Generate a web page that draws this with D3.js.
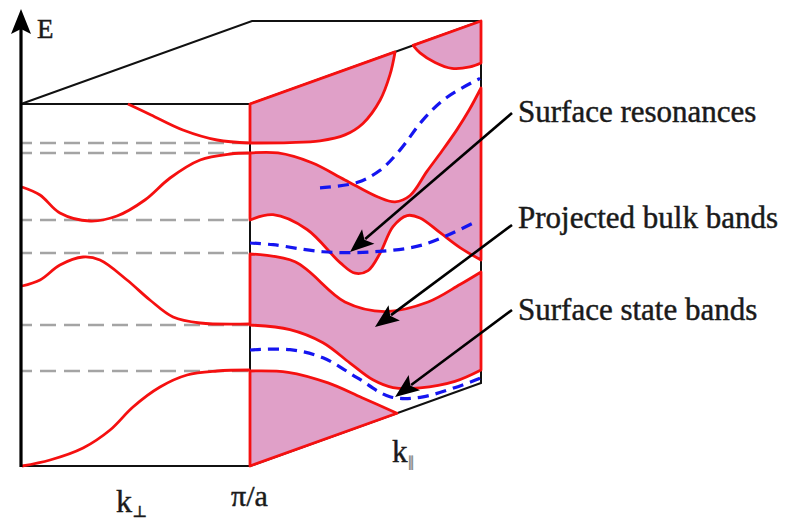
<!DOCTYPE html>
<html>
<head>
<meta charset="utf-8">
<script src="https://cdn.jsdelivr.net/npm/d3@7"></script>
<style>
  body { margin: 0; background: #fff; }
  svg { display: block; background: #fff; }
</style>
</head>
<body>
<svg></svg>
<script>
const width = 787;
const height = 519;
const serif = 'Liberation Serif, DejaVu Serif, serif';

// energies of the gray reference levels on the k-perp face
const dashLevels = [323, 313, 246, 213, 141, 95];

// bulk bands E(k_perp), k_perp from 0 to pi/a
const perpBands = [
  [[0.467, 362], [0.568, 351], [0.707, 336], [0.856, 326], [1, 323]],
  [[0.004, 279], [0.083, 271], [0.170, 253], [0.301, 245], [0.419, 250], [0.541, 266], [0.651, 288], [0.782, 306], [0.913, 312], [1, 313]],
  [[0.004, 180], [0.083, 186], [0.170, 201], [0.271, 209], [0.345, 206], [0.463, 186], [0.563, 166], [0.664, 149], [0.782, 143], [1, 142]],
  [[0.004, 0], [0.127, 6], [0.271, 18], [0.389, 36], [0.489, 59], [0.607, 79], [0.725, 91], [0.856, 95], [1, 96]]
];

// projected bulk regions on the k-par face, each one a list of boundary pieces
const projected = [
  [[[0, 362], [0.628, 362]],
   [[0.628, 362], [0.606, 341], [0.563, 319], [0.489, 302], [0.411, 297], [0.303, 300], [0.173, 309], [0, 323]]],
  [[[0.706, 362], [1, 362]],
   [[1, 320], [0.952, 320], [0.874, 325], [0.801, 337], [0.736, 352], [0.706, 362]]],
  [[[0, 313], [0.121, 303], [0.268, 281], [0.411, 252], [0.554, 223], [0.628, 212], [0.693, 213], [0.766, 231], [0.831, 246], [0.896, 262], [0.948, 277], [1, 295]],
   [[1, 123], [0.909, 143], [0.823, 165], [0.736, 187], [0.680, 194], [0.619, 188], [0.563, 166], [0.511, 153], [0.455, 155], [0.390, 171], [0.247, 216], [0.100, 243], [0, 246]]],
  [[[0, 212], [0.195, 188], [0.411, 130], [0.584, 106], [0.771, 100], [0.909, 106], [1, 111]],
   [[1, 13], [0.887, 11], [0.736, 17], [0.619, 27], [0.532, 42], [0.433, 67], [0.316, 97], [0.173, 122], [0, 141]]],
  [[[0, 0], [0.636, 0]],
   [[0.636, 0], [0.485, 28], [0.338, 55], [0.165, 80], [0, 95]]]
];

// surface states / resonances E(k_par)
const surfaceStates = [
  [[0.303, 253], [0.463, 245], [0.563, 249], [0.649, 262], [0.749, 284], [0.853, 298], [0.996, 305]],
  [[0, 223], [0.1, 213], [0.316, 188], [0.532, 170], [0.749, 159], [0.974, 163]],
  [[0, 116], [0.173, 102], [0.316, 82], [0.463, 50], [0.606, 19], [0.749, 7], [0.996, 5]]
];

const calloutText = ['Surface resonances', 'Projected bulk bands', 'Surface state bands'];
const calloutTarget = [[0.433, 178], [0.541, 94], [0.628, 17]];

const eMax = 362;
const labelX = 518;
const labelY = [122, 228, 320];
const tailX = 512;
const tailY = [113, 225, 310];

window.onload = () => {
  const svg = d3.select('svg')
      .attr('width', width)
      .attr('height', height)
      .attr('font-family', serif);

  const xPerp = d3.scaleLinear().domain([0, 1]).range([21, 250]);
  const xPar = d3.scaleLinear().domain([0, 1]).range([250, 481]);
  const yE = d3.scaleLinear().domain([0, eMax]).range([466, 104]);
  const skew = d3.scaleLinear().domain([0, 1]).range([0, 83]);

  const par = p => [xPar(p[0]), yE(p[1]) - skew(p[0])];

  const perpLine = d3.line()
      .x(d => xPerp(d[0]))
      .y(d => yE(d[1]))
      .curve(d3.curveCatmullRom);

  const parLine = d3.line()
      .x(d => par(d)[0])
      .y(d => par(d)[1])
      .curve(d3.curveCatmullRom);

  const red = '#f51010';
  const pink = '#e0a0c8';

  // cube frame
  const depth = xPar(1) - xPar(0);
  const frame = svg.append('g')
      .attr('fill', 'none')
      .attr('stroke', '#111')
      .attr('stroke-width', 2);

  frame.append('path')
      .attr('d', d3.line()([
        [xPerp(0), yE(eMax)], [xPerp(0) + depth, yE(eMax) - skew(1)],
        par([1, eMax]), par([0, eMax])
      ]));
  frame.append('path')
      .attr('d', d3.line()([
        [xPerp(0), yE(eMax)], [xPerp(1), yE(eMax)], [xPerp(1), yE(0)], [xPerp(0), yE(0)]
      ]));
  frame.append('path')
      .attr('d', d3.line()([par([0, 0]), par([1, 0]), par([1, eMax])]));

  // projected bulk bands
  svg.append('g')
    .selectAll('path')
    .data(projected)
    .join('path')
      .attr('d', pieces => pieces.map((pts, i) => {
        const s = parLine(pts);
        return i === 0 ? s : 'L' + s.slice(1);
      }).join('') + 'Z')
      .attr('fill', pink)
      .attr('stroke', red)
      .attr('stroke-width', 2.8)
      .attr('stroke-linejoin', 'round');

  // gray reference levels
  svg.append('g')
    .selectAll('line')
    .data(dashLevels)
    .join('line')
      .attr('x1', xPerp(0) + 1)
      .attr('x2', xPerp(1))
      .attr('y1', d => yE(d))
      .attr('y2', d => yE(d))
      .attr('stroke', '#a4a4a4')
      .attr('stroke-width', 2.6)
      .attr('stroke-dasharray', '16,8')
      .attr('stroke-dashoffset', 6);

  // bulk bands along k-perp
  svg.append('g')
    .selectAll('path')
    .data(perpBands)
    .join('path')
      .attr('d', perpLine)
      .attr('fill', 'none')
      .attr('stroke', red)
      .attr('stroke-width', 2.8);

  // surface states
  svg.append('g')
    .selectAll('path')
    .data(surfaceStates)
    .join('path')
      .attr('d', parLine)
      .attr('fill', 'none')
      .attr('stroke', '#1515f0')
      .attr('stroke-width', 3.2)
      .attr('stroke-dasharray', '11,7');

  // energy axis
  svg.append('line')
      .attr('x1', xPerp(0))
      .attr('x2', xPerp(0))
      .attr('y1', yE(0) + 1)
      .attr('y2', 28)
      .attr('stroke', '#000')
      .attr('stroke-width', 3.2);
  svg.append('path')
      .attr('d', d3.line()([[xPerp(0), 9], [xPerp(0) - 10, 34], [xPerp(0), 29], [xPerp(0) + 10, 34]]) + 'Z')
      .attr('fill', '#000');

  // callout arrows
  const arrows = svg.append('g');
  calloutTarget.forEach((t, i) => {
    const [tx, ty] = par(t);
    const ang = Math.atan2(ty - tailY[i], tx - tailX);
    const len = 24, half = 9.5;
    const bx = tx - len * Math.cos(ang), by = ty - len * Math.sin(ang);
    arrows.append('line')
        .attr('x1', tailX)
        .attr('y1', tailY[i])
        .attr('x2', bx + 4 * Math.cos(ang))
        .attr('y2', by + 4 * Math.sin(ang))
        .attr('stroke', '#000')
        .attr('stroke-width', 2.6);
    arrows.append('path')
        .attr('d', d3.line()([
          [tx, ty],
          [bx - half * Math.sin(ang), by + half * Math.cos(ang)],
          [bx + 5 * Math.cos(ang), by + 5 * Math.sin(ang)],
          [bx + half * Math.sin(ang), by - half * Math.cos(ang)]
        ]) + 'Z')
        .attr('fill', '#000');
  });

  const ink = '#1a1a1a';
  const texts = svg.append('g')
      .attr('fill', ink)
      .attr('stroke', ink)
      .attr('stroke-width', 0.45);

  texts.selectAll('text')
    .data(calloutText)
    .join('text')
      .attr('x', labelX)
      .attr('y', (d, i) => labelY[i])
      .attr('font-family', serif)
      .attr('font-size', 31)
      .text(d => d);

  texts.append('text')
      .attr('x', 37)
      .attr('y', 38)
      .attr('font-family', serif)
      .attr('font-size', 27)
      .text('E');

  const kPerp = texts.append('text')
      .attr('x', 116)
      .attr('y', 512)
      .attr('font-family', serif)
      .attr('font-size', 32)
      .text('k');
  kPerp.append('tspan')
      .attr('font-size', 16)
      .attr('dy', 5)
      .text('⊥');

  texts.append('text')
      .attr('x', 231)
      .attr('y', 506)
      .attr('font-family', serif)
      .attr('font-size', 30)
      .text('π/a');

  const kPar = texts.append('text')
      .attr('x', 392)
      .attr('y', 462)
      .attr('font-family', serif)
      .attr('font-size', 31)
      .text('k');
  kPar.append('tspan')
      .attr('font-size', 15)
      .attr('dy', 6)
      .attr('fill', '#888')
      .attr('stroke', '#888')
      .text('∥');
};
</script>
</body>
</html>
